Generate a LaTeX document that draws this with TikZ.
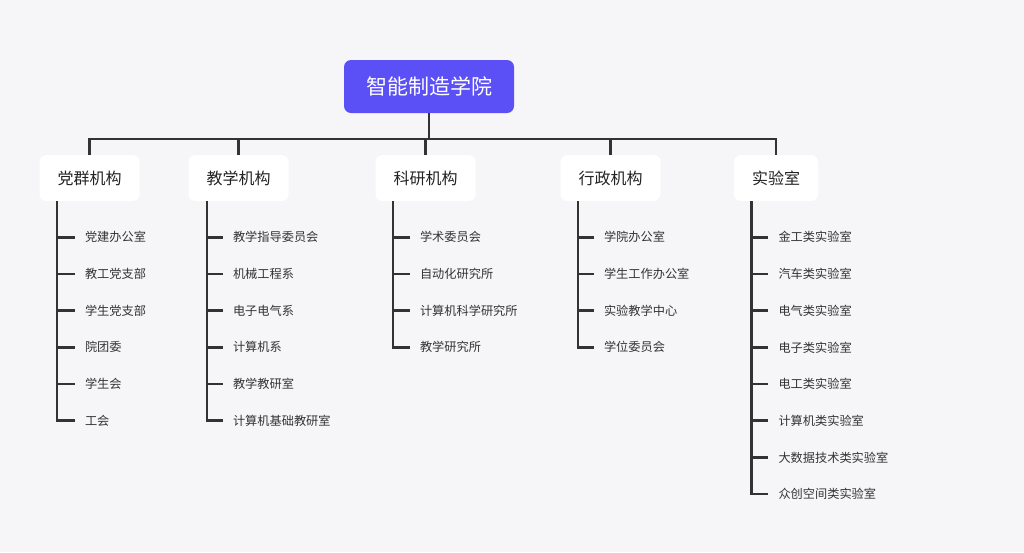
\documentclass[tikz,border=0pt]{standalone}
\usepackage{fontspec}
\newfontfamily\cjk{Noto Sans CJK SC}
\usetikzlibrary{calc}
\definecolor{bg}{HTML}{F6F6F8}
\definecolor{rootc}{HTML}{5B50F5}
\definecolor{linec}{HTML}{333333}
\definecolor{txt}{HTML}{222222}
\definecolor{leaftxt}{HTML}{333333}
\begin{document}
\begin{tikzpicture}[x=1pt,y=-1pt,
 rootbox/.style={fill=rootc, rounded corners=7pt, text=white, font=\cjk\fontsize{21}{25}\selectfont, minimum width=170pt, minimum height=53pt, inner sep=0pt},
 catbox/.style={fill=white, rounded corners=7pt, text=txt, font=\cjk\fontsize{16}{19}\selectfont, minimum height=46pt, inner xsep=18pt, inner ysep=0pt},
 leaf/.style={anchor=west, font=\cjk\fontsize{12.2}{14}\selectfont, text=leaftxt, inner xsep=10pt, inner ysep=2pt},
 conn/.style={draw=linec, line width=2.6pt}
]
\fill[bg] (0,0) rectangle (1024,552);
\useasboundingbox (0,0) rectangle (1024,552);

\node[rootbox] (root) at (429,86.5) {智能制造学院};

\node[catbox] (c1) at (89.5,178) {党群机构};
\node[catbox] (c2) at (238.5,178) {教学机构};
\node[catbox] (c3) at (425.5,178) {科研机构};
\node[catbox] (c4) at (610.5,178) {行政机构};
\node[catbox] (c5) at (776,178) {实验室};

\coordinate (bus) at (429,139);
\draw[conn] (root.south) -- (bus);
\draw[conn] (c1.north) -- (c1.north |- bus) -- (c5.north |- bus) -- (c5.north);
\foreach \k in {2,3,4} { \draw[conn] (c\k.north |- bus) -- (c\k.north); }

% branch tops
\coordinate (b1) at ($(c1.south west)+(17.5,0)$);
\coordinate (b2) at ($(c2.south west)+(18.5,0)$);
\coordinate (b3) at ($(c3.south west)+(17.5,0)$);
\coordinate (b4) at ($(c4.south west)+(17.5,0)$);
\coordinate (b5) at ($(c5.south west)+(17.5,0)$);

\foreach \t [count=\i] in {党建办公室,教工党支部,学生党支部,院团委,学生会,工会} {
  \node[leaf] (a\i) at ($(b1)+(18,{36.7*\i-0.7})$) {\t};
}
\foreach \t [count=\i] in {教学指导委员会,机械工程系,电子电气系,计算机系,教学教研室,计算机基础教研室} {
  \node[leaf] (e\i) at ($(b2)+(16,{36.7*\i-0.7})$) {\t};
}
\foreach \t [count=\i] in {学术委员会,自动化研究所,计算机科学研究所,教学研究所} {
  \node[leaf] (k\i) at ($(b3)+(17,{36.7*\i-0.7})$) {\t};
}
\foreach \t [count=\i] in {学院办公室,学生工作办公室,实验教学中心,学位委员会} {
  \node[leaf] (x\i) at ($(b4)+(16,{36.7*\i-0.7})$) {\t};
}
\foreach \t [count=\i] in {金工类实验室,汽车类实验室,电气类实验室,电子类实验室,电工类实验室,计算机类实验室,大数据技术类实验室,众创空间类实验室} {
  \node[leaf] (s\i) at ($(b5)+(17,{36.7*\i-0.7})$) {\t};
}

\draw[conn] (b1) |- (a6.west);
\foreach \i in {1,...,5} { \draw[conn] (b1 |- a\i.west) -- (a\i.west); }
\draw[conn] (b2) |- (e6.west);
\foreach \i in {1,...,5} { \draw[conn] (b2 |- e\i.west) -- (e\i.west); }
\draw[conn] (b3) |- (k4.west);
\foreach \i in {1,...,3} { \draw[conn] (b3 |- k\i.west) -- (k\i.west); }
\draw[conn] (b4) |- (x4.west);
\foreach \i in {1,...,3} { \draw[conn] (b4 |- x\i.west) -- (x\i.west); }
\draw[conn] (b5) |- (s8.west);
\foreach \i in {1,...,7} { \draw[conn] (b5 |- s\i.west) -- (s\i.west); }
\end{tikzpicture}
\end{document}
